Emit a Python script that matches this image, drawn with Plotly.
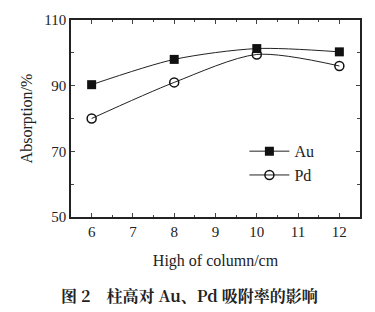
import plotly.graph_objects as go

x_vals = [6, 8, 10, 12]
au_vals = [90.3, 98.0, 101.3, 100.3]
pd_vals = [80.0, 91.0, 99.5, 96.0]
x_ticks = [6, 7, 8, 9, 10, 11, 12]
y_ticks = [50, 70, 90, 110]

serif = "Liberation Serif, Times New Roman, serif"

fig = go.Figure()
fig.add_trace(go.Scatter(x=x_vals, y=au_vals, mode="lines+markers", name="Au",
                         line=dict(color="#222", width=1, shape="spline", smoothing=0.8),
                         marker=dict(symbol="square", size=9, color="#111")))
fig.add_trace(go.Scatter(x=x_vals, y=pd_vals, mode="lines+markers", name="Pd",
                         line=dict(color="#222", width=1, shape="spline", smoothing=0.8),
                         marker=dict(symbol="circle-open", size=9, color="#111", line=dict(width=1.5))))

fig.update_layout(
    width=375, height=312,
    margin=dict(l=71, r=15, t=15, b=95),
    paper_bgcolor="white", plot_bgcolor="white",
    font=dict(family=serif, size=15, color="#222"),
    showlegend=True,
    legend=dict(x=0.6, y=0.42, xanchor="left", yanchor="top",
                bgcolor="rgba(0,0,0,0)", font=dict(family=serif, size=16),
                itemwidth=40, tracegroupgap=2),
    xaxis=dict(range=[5.5, 12.5], tickvals=x_ticks, ticks="inside", ticklen=4,
               showline=True, linecolor="#222", linewidth=1.5, mirror="ticks",
               showgrid=False, zeroline=False,
               minor=dict(dtick=0.5, ticks="inside", ticklen=2, tick0=0),
               title=dict(text="High of column/cm", font=dict(size=16), standoff=16)),
    yaxis=dict(range=[50, 110], tickvals=y_ticks, ticks="inside", ticklen=4,
               showline=True, linecolor="#222", linewidth=1.5, mirror="ticks",
               showgrid=False, zeroline=False,
               minor=dict(dtick=10, ticks="inside", ticklen=3, tick0=0),
               title=dict(text="Absorption/%", font=dict(size=16), standoff=8)),
)

fig.add_annotation(text="<b>图 2　柱高对 Au、Pd 吸附率的影响</b>", xref="paper", yref="paper",
                   x=0.41, y=-0.40, xanchor="center", yanchor="middle", showarrow=False,
                   font=dict(family="Noto Serif CJK SC, Noto Sans CJK SC", size=16, color="#222"))

fig.write_html("out.html")
